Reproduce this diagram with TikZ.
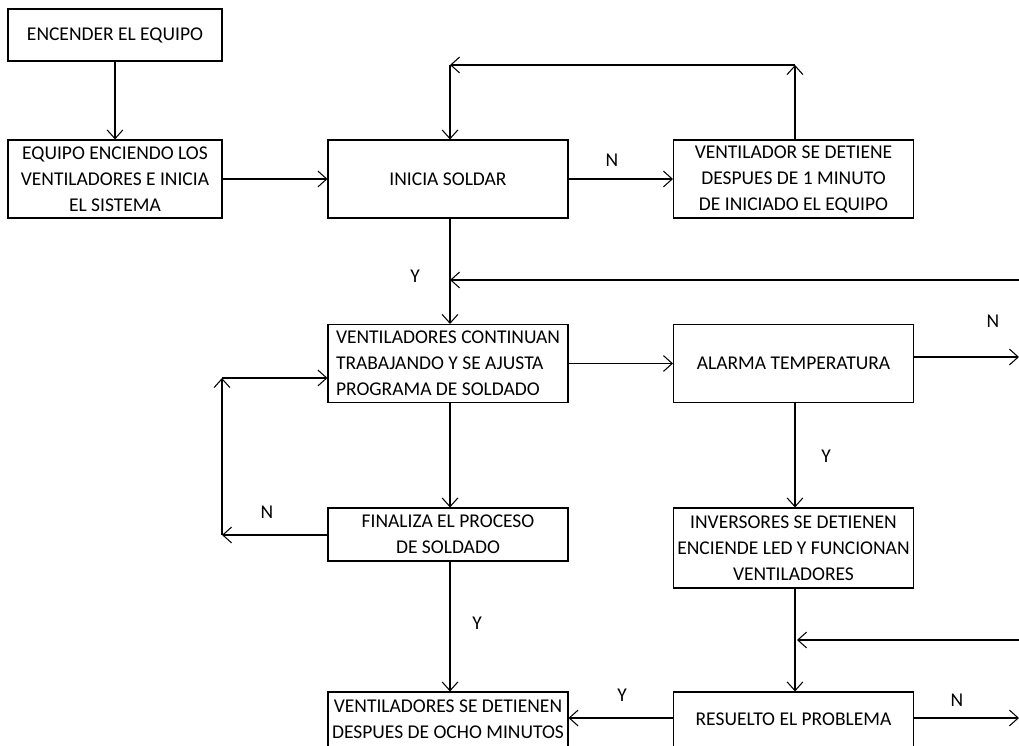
\documentclass[tikz,border=0pt]{standalone}
\usepackage{fontspec}
\setmainfont{Carlito}
\usepackage{tikz}
\usetikzlibrary{arrows.meta,positioning}

\begin{document}
\begin{tikzpicture}[
    x=0.02cm, y=-0.02cm,
    font=\fontsize{11.1}{14.8}\selectfont,
    box/.style={draw, line width=0.6pt, minimum width=4.8cm, minimum height=1.56cm, align=center, inner sep=1pt},
    smallbox/.style={box, minimum width=4.28cm},
    arrow/.style={-{Straight Barb[length=5pt,width=9pt]}, line width=0.6pt},
    lbl/.style={inner sep=1pt}
]
\useasboundingbox (0,0) rectangle (1019,746);

% boxes
\node[smallbox, minimum height=1.04cm] (encender) at (115,35) {ENCENDER EL EQUIPO};
\node[smallbox] (equipo) at (115,179) {EQUIPO ENCIENDO LOS\\VENTILADORES E INICIA\\EL SISTEMA};
\node[box] (inicia) at (448,179) {INICIA SOLDAR};
\node[box] (ventilador) at (793.5,179) {VENTILADOR SE DETIENE\\DESPUES DE 1 MINUTO\\DE INICIADO EL EQUIPO};
\node[box, align=left] (continuan) at (448,363.5) {VENTILADORES CONTINUAN\\TRABAJANDO Y SE AJUSTA\\PROGRAMA DE SOLDADO};
\node[box] (alarma) at (793.5,363.5) {ALARMA TEMPERATURA};
\node[box, minimum height=1.06cm] (finaliza) at (448,534.5) {FINALIZA EL PROCESO\\DE SOLDADO};
\node[box, minimum height=1.6cm] (inversores) at (793.5,548) {INVERSORES SE DETIENEN\\ENCIENDE LED Y FUNCIONAN\\VENTILADORES};
\node[box, minimum height=1.1cm] (ocho) at (448,719.5) {VENTILADORES SE DETIENEN\\DESPUES DE OCHO MINUTOS};
\node[box, minimum height=1.1cm] (resuelto) at (793.5,719.5) {RESUELTO EL PROBLEMA};

% corner points
\coordinate (topR) at (795,65);
\coordinate (topL) at (450,65);
\coordinate (loopB) at (222,535);
\coordinate (loopT) at (222,378);
\coordinate (edgeA) at (1019,280);
\coordinate (midA) at (450,280);
\coordinate (edgeB) at (1019,357);
\coordinate (edgeC) at (1019,640);
\coordinate (midC) at (797,640);
\coordinate (edgeD) at (1019,718);

% connectors
\draw[arrow] (encender) -- (equipo);
\draw[arrow] (equipo) -- (inicia);
\draw[arrow] (inicia) -- (ventilador);
\draw[arrow] (ventilador.north -| topR) -- (topR);
\draw[arrow] (topR) -- (topL);
\draw[arrow] (topL) -- (inicia.north -| topL);
\draw[arrow] (inicia.south -| topL) -- (continuan.north -| topL);
\draw[arrow] (edgeA) -- (midA);
\draw[arrow] (continuan) -- (alarma);
\draw[arrow] (alarma.east |- edgeB) -- (edgeB);
\draw[arrow] (alarma.south -| topR) -- (inversores.north -| topR);
\draw[arrow] (continuan.south -| topL) -- (finaliza.north -| topL);
\draw[arrow] (finaliza.west |- loopB) -- (loopB);
\draw[arrow] (loopB) -- (loopT);
\draw[arrow] (loopT) -- (continuan.west |- loopT);
\draw[arrow] (finaliza.south -| topL) -- (ocho.north -| topL);
\draw[arrow] (inversores.south -| topR) -- (resuelto.north -| topR);
\draw[arrow] (edgeC) -- (midC);
\draw[arrow] (resuelto.east |- edgeD) -- (edgeD);
\draw[arrow] (resuelto.west |- edgeD) -- (ocho.east |- edgeD);

% labels
\node[lbl] (n1) at (612,160) {N};
\node[lbl] (y1) at (415,276) {Y};
\node[lbl] (n2) at (993,321) {N};
\node[lbl] (y2) at (826,456) {Y};
\node[lbl] (n3) at (267,512) {N};
\node[lbl] (y3) at (477,623) {Y};
\node[lbl] (y4) at (622,695) {Y};
\node[lbl] (n4) at (957,700) {N};
\end{tikzpicture}
\end{document}
